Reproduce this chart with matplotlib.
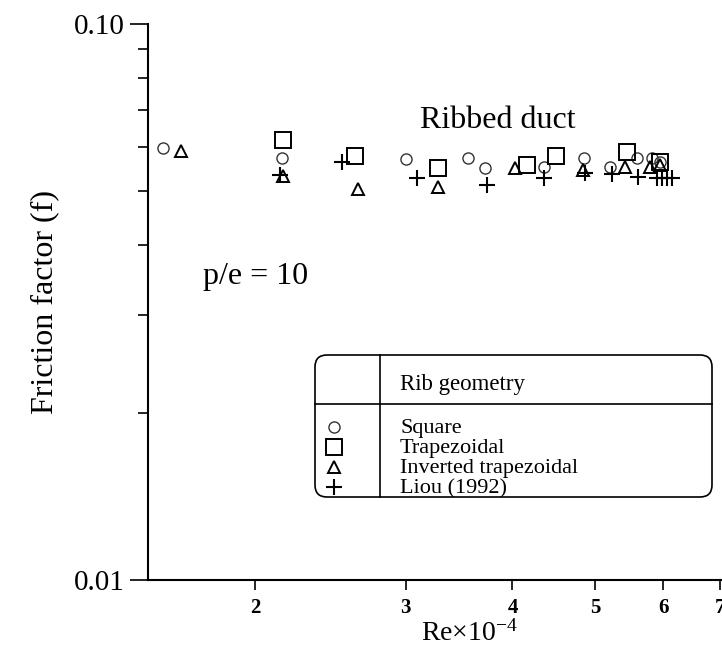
import numpy as np
import matplotlib
matplotlib.use('Agg')
import matplotlib.pyplot as plt
from matplotlib.patches import FancyBboxPatch
from matplotlib.lines import Line2D
from matplotlib.ticker import FixedLocator, NullLocator, NullFormatter

plt.rcParams['font.family'] = ['Liberation Serif', 'DejaVu Serif']
plt.rcParams['mathtext.fontset'] = 'custom'
plt.rcParams['mathtext.rm'] = 'Liberation Serif'
plt.rcParams['mathtext.it'] = 'Liberation Serif:italic'

# Re x 10^-4 and friction factor for each rib shape
re_square = [1.56, 2.15, 3.00, 3.55, 3.72, 4.35, 4.85, 5.20, 5.60, 5.83, 5.95]
f_square = [0.0598, 0.0574, 0.0572, 0.0574, 0.0551, 0.0553, 0.0574, 0.0553,
            0.0574, 0.0574, 0.0565]

re_trap = [2.16, 2.62, 3.27, 4.16, 4.50, 5.45, 5.95]
f_trap = [0.0618, 0.0579, 0.0551, 0.0558, 0.0579, 0.0589, 0.0565]

re_inv = [1.64, 2.16, 2.64, 3.27, 4.03, 4.84, 5.42, 5.79, 5.95]
f_inv = [0.0591, 0.0533, 0.0505, 0.0509, 0.0551, 0.0546, 0.0553, 0.0553,
         0.0558]

re_liou = [2.14, 2.53, 3.09, 3.74, 4.36, 4.86, 5.23, 5.61, 5.90, 5.98,
           6.06, 6.14]
f_liou = [0.0536, 0.0565, 0.0528, 0.0513, 0.0528, 0.0540, 0.0537, 0.0531,
          0.0528, 0.0528, 0.0528, 0.0528]

xticks = [2, 3, 4, 5, 6, 7]
legend_names = ['Square', 'Trapezoidal', 'Inverted trapezoidal', 'Liou (1992)']

W, H = 722, 658
fig = plt.figure(figsize=(W/100, H/100), dpi=100)
ax = fig.add_axes([148/W, 1 - 580/H, 574/W, 556/H])

mk = dict(linestyle='none', color='k', markerfacecolor='none', clip_on=False)
ax.plot(re_square, f_square, marker='o', markersize=8, markeredgewidth=1.0,
        markeredgecolor='#333333', **mk)
ax.plot(re_trap, f_trap, marker='s', markersize=11, markeredgewidth=1.4, **mk)
ax.plot(re_inv, f_inv, marker='^', markersize=9, markeredgewidth=1.4, **mk)
ax.plot(re_liou, f_liou, marker='+', markersize=12, markeredgewidth=1.5, **mk)

ax.set_xscale('log')
ax.set_yscale('log')
ax.set_xlim(1.5, 7.03)
ax.set_ylim(0.01, 0.1)

ax.xaxis.set_major_locator(FixedLocator(xticks))
ax.xaxis.set_minor_locator(NullLocator())
ax.set_xticklabels([str(t) for t in xticks], fontsize=15, fontweight='bold')
ax.yaxis.set_major_locator(FixedLocator([0.01, 0.1]))
ax.yaxis.set_minor_locator(FixedLocator([0.02, 0.03, 0.04, 0.05, 0.06, 0.07, 0.08, 0.09]))
ax.yaxis.set_minor_formatter(NullFormatter())
ax.set_yticklabels(['0.01', '0.10'], fontsize=21)

ax.tick_params(axis='x', which='major', length=7, width=1.2, pad=6)
ax.tick_params(axis='y', which='major', length=13, width=1.2, pad=4)
ax.tick_params(axis='y', which='minor', length=7, width=1.2)
for s in ['top', 'right']:
    ax.spines[s].set_visible(False)
for s in ['left', 'bottom']:
    ax.spines[s].set_linewidth(1.5)

ax.set_ylabel('Friction factor (f)', fontsize=23, labelpad=10)
fig.text(469/W, 1 - 641/H, r'Re$\times$10$^{-4}$', fontsize=20,
         ha='center', va='baseline')

ax.text(0.61, 0.827, 'Ribbed duct', transform=ax.transAxes, fontsize=23,
        ha='center', va='center')
ax.text(0.188, 0.545, 'p/e = 10', transform=ax.transAxes, fontsize=23,
        ha='center', va='center')

# legend drawn as a table: marker column | name column
tr = fig.dpi_scale_trans
def px(x, y):
    return x/100, (H - y)/100

x0, y0, x1, y1 = 315, 355, 712, 497
box = FancyBboxPatch(px(x0, y1), (x1 - x0)/100, (y1 - y0)/100,
                     boxstyle='round,pad=0,rounding_size=0.12',
                     transform=tr, facecolor='white', edgecolor='k', lw=1.2)
fig.add_artist(box)
fig.add_artist(Line2D(*zip(px(380, y0), px(380, y1)), transform=tr,
                      color='k', lw=1.2))
fig.add_artist(Line2D(*zip(px(x0, 404), px(x1, 404)), transform=tr,
                      color='k', lw=1.2))
fig.text(*px(400, 390), 'Rib geometry', transform=tr, fontsize=16.5,
         va='baseline', ha='left')

styles = [dict(marker='o', markersize=8, markeredgewidth=1.0, markeredgecolor='#333333'),
          dict(marker='s', markersize=11, markeredgewidth=1.4),
          dict(marker='^', markersize=9, markeredgewidth=1.4),
          dict(marker='+', markersize=12, markeredgewidth=1.5)]
rows = [427, 447, 467, 487]
for name, st, yr in zip(legend_names, styles, rows):
    fig.add_artist(Line2D([px(334, yr)[0]], [px(334, yr)[1]], transform=tr,
                          linestyle='none', color='k', markerfacecolor='none', **st))
    fig.text(*px(400, yr + 6), name, transform=tr, fontsize=16,
             va='baseline', ha='left')

fig.savefig('out.png', dpi=100, facecolor='white')
